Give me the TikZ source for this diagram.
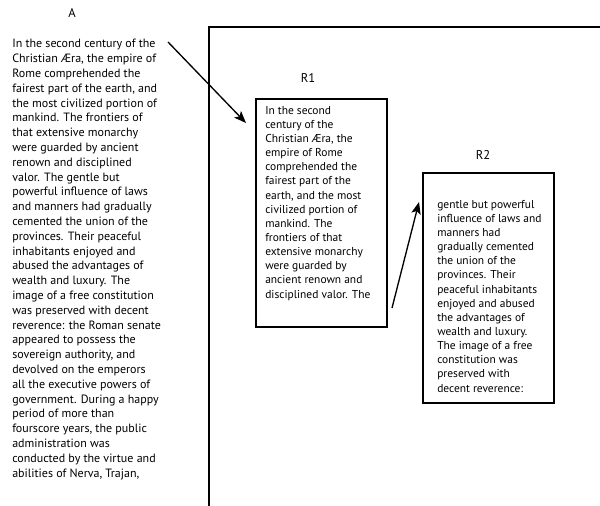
\documentclass[tikz,border=0pt]{standalone}
\usepackage{fontspec}
\setmainfont{PT Sans}
\usetikzlibrary{arrows.meta}
\tikzset{
  txt/.style={anchor=base west,align=left,inner sep=0pt,font=\fontsize{8.6}{10.6}\selectfont},
  txtwide/.style={txt,font=\fontsize{9}{11.1}\selectfont},
  lbl/.style={inner sep=0pt,font=\fontsize{9.5}{11}\selectfont},
  frame/.style={line width=1.1pt},
  box/.style={line width=1.1pt},
  arr/.style={line width=1pt,-{Stealth[length=9pt,width=7pt,inset=2pt]}}
}
\begin{document}
\begin{tikzpicture}[x=0.75pt,y=-0.75pt]
\useasboundingbox (0,0) rectangle (600,506);
% labels
\node[lbl,anchor=base] (la) at (72,18) {A};
\node[lbl,anchor=base] (lr1) at (308,83) {R1};
\node[lbl,anchor=base] (lr2) at (483,160) {R2};
% big frame
\draw[frame] (209,506) -- (209,27) -- (600,27);
% boxes
\draw[box] (256,99) rectangle (387,327);
\draw[box] (423,173) rectangle (554,403);
% texts (anchored at the baseline of the last line)
\node[txtwide] (ta) at (12,477) {In the second century of the\\Christian \AE ra, the empire of\\Rome comprehended the\\fairest part of the earth, and\\the most civilized portion of\\mankind. The frontiers of\\that extensive monarchy\\were guarded by ancient\\renown and disciplined\\valor.  The gentle but\\powerful influence of laws\\and manners had gradually\\cemented the union of the\\provinces. Their peaceful\\inhabitants enjoyed and\\abused the advantages of\\wealth and luxury. The\\image of a free constitution\\was preserved with decent\\reverence: the Roman senate\\appeared to possess the\\sovereign authority, and\\devolved on the emperors\\all the executive powers of\\government. During a happy\\period of more than\\fourscore years, the public\\administration was\\conducted by the virtue and\\abilities of Nerva, Trajan,};
\node[txt] (tr1) at (265,298) {In the second\\century of the\\Christian \AE ra, the\\empire of Rome\\comprehended the\\fairest part of the\\earth, and the most\\civilized portion of\\mankind. The\\frontiers of that\\extensive monarchy\\were guarded by\\ancient renown and\\disciplined valor.  The};
\node[txt] (tr2) at (437,392) {gentle but powerful\\influence of laws and\\manners had\\gradually cemented\\the union of the\\provinces. Their\\peaceful inhabitants\\enjoyed and abused\\the advantages of\\wealth and luxury.\\The image of a free\\constitution was\\preserved with\\decent reverence:};
% arrows
\coordinate (a1s) at (168,42);
\coordinate (a1e) at (246,123);
\coordinate (a2s) at (392,308);
\coordinate (a2e) at (419,202);
\draw[arr] (a1s) -- (a1e);
\draw[arr] (a2s) -- (a2e);
\end{tikzpicture}
\end{document}
